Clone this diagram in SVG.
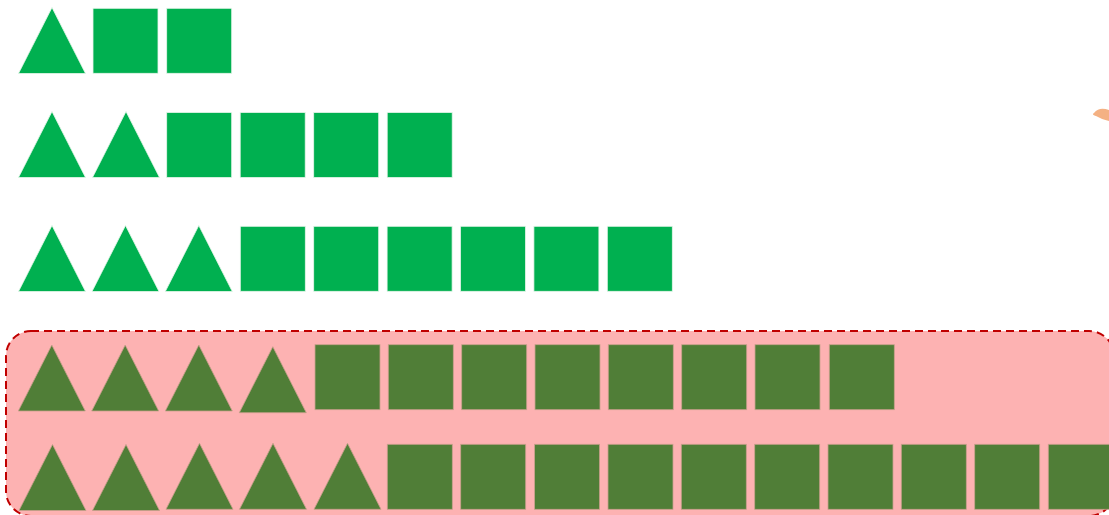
<svg xmlns="http://www.w3.org/2000/svg" width="1109" height="515" viewBox="0 0 1109 515">
<defs>
<style>
.lt{fill:#00B050;stroke:#e6f6ea;stroke-width:0.8}
.dk{fill:#507E37;stroke:#c8a08c;stroke-width:0.8}
.box{fill:#FDB2B2;stroke:#C00000;stroke-width:2;stroke-dasharray:8 5}
</style>
<polygon id="tri" points="0,66 33.5,0 67,66"/>
<rect id="sq" width="65" height="65"/>
</defs>
<rect width="1109" height="515" fill="#ffffff"/>
<path d="M1094,113 C1098,108 1103,108 1109,110 L1109,121 C1104,120 1100,118 1096,116 C1093,115 1092,114 1094,113 Z" fill="#F4B183"/>
<g id="row1">
<use href="#tri" class="lt" x="18.5" y="7.5"/>
<use href="#sq" class="lt" x="93" y="8.3"/>
<use href="#sq" class="lt" x="166.7" y="8.3"/>
</g>
<g id="row2">
<use href="#tri" class="lt" x="18.5" y="111.5"/>
<use href="#tri" class="lt" x="92.5" y="111.5"/>
<use href="#sq" class="lt" x="166.7" y="112.5"/>
<use href="#sq" class="lt" x="240.2" y="112.5"/>
<use href="#sq" class="lt" x="313.7" y="112.5"/>
<use href="#sq" class="lt" x="387.2" y="112.5"/>
</g>
<g id="row3">
<use href="#tri" class="lt" x="18.5" y="225.5"/>
<use href="#tri" class="lt" x="92" y="225.5"/>
<use href="#tri" class="lt" x="165.3" y="225.5"/>
<use href="#sq" class="lt" x="240.3" y="226.3"/>
<use href="#sq" class="lt" x="313.7" y="226.3"/>
<use href="#sq" class="lt" x="387.1" y="226.3"/>
<use href="#sq" class="lt" x="460.5" y="226.3"/>
<use href="#sq" class="lt" x="533.9" y="226.3"/>
<use href="#sq" class="lt" x="607.3" y="226.3"/>
</g>
<rect id="group-box" class="box" x="6" y="331" width="1108" height="185" rx="25" ry="25"/>
<g id="row4">
<use href="#tri" class="dk" x="18.3" y="345"/>
<use href="#tri" class="dk" x="91.7" y="345"/>
<use href="#tri" class="dk" x="165.3" y="345"/>
<use href="#tri" class="dk" x="239.3" y="346.7"/>
<use href="#sq" class="dk" x="315" y="344.7"/>
<use href="#sq" class="dk" x="388.3" y="344.7"/>
<use href="#sq" class="dk" x="461.7" y="344.7"/>
<use href="#sq" class="dk" x="535" y="344.7"/>
<use href="#sq" class="dk" x="608.3" y="344.7"/>
<use href="#sq" class="dk" x="681.7" y="344.7"/>
<use href="#sq" class="dk" x="755" y="344.7"/>
<use href="#sq" class="dk" x="829.3" y="344.7"/>
</g>
<g id="row5">
<use href="#tri" class="dk" x="19" y="444.5"/>
<use href="#tri" class="dk" x="92.5" y="444.5"/>
<use href="#tri" class="dk" x="166" y="443.3"/>
<use href="#tri" class="dk" x="239.5" y="443.3"/>
<use href="#tri" class="dk" x="314" y="443.3"/>
<use href="#sq" class="dk" x="387.3" y="444.3"/>
<use href="#sq" class="dk" x="460.7" y="444.3"/>
<use href="#sq" class="dk" x="534.6" y="444.3"/>
<use href="#sq" class="dk" x="608" y="444.3"/>
<use href="#sq" class="dk" x="681.3" y="444.3"/>
<use href="#sq" class="dk" x="754.7" y="444.3"/>
<use href="#sq" class="dk" x="828" y="444.3"/>
<use href="#sq" class="dk" x="901.3" y="444.3"/>
<use href="#sq" class="dk" x="974.7" y="444.3"/>
<use href="#sq" class="dk" x="1048.3" y="444.3"/>
</g>
</svg>
